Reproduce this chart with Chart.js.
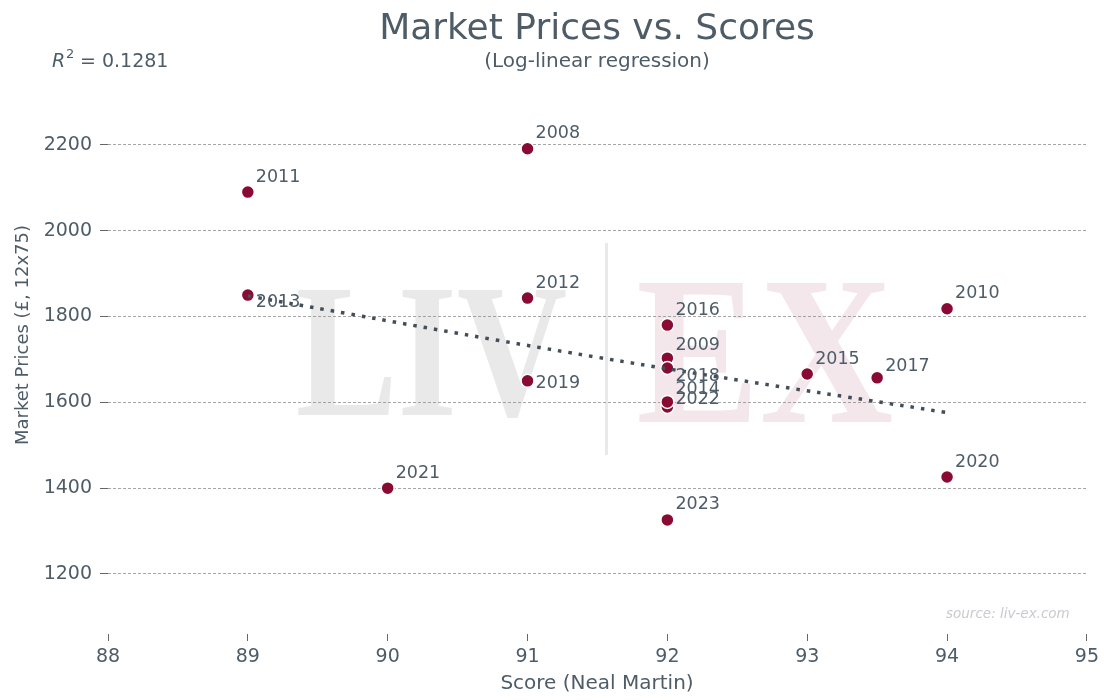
<!DOCTYPE html>
<html>
<head>
<meta charset="utf-8">
<script src="https://cdn.jsdelivr.net/npm/chart.js@4.4.1/dist/chart.umd.min.js"></script>
<style>
  html, body { margin: 0; padding: 0; background: #fff; }
  #wrap { width: 1104px; height: 700px; }
</style>
</head>
<body>
<div id="wrap"><canvas id="chart" width="1104" height="700"></canvas></div>
<script>
// vintages, Neal Martin scores, market prices (GBP, 12x75)
const years  = ['2008', '2009', '2010', '2011', '2012', '2013', '2014', '2015', '2016', '2017', '2018', '2019', '2020', '2021', '2022', '2023'];
const scores = [91, 92, 94, 89, 91, 89, 92, 93, 92, 93.5, 92, 91, 94, 90, 92, 92];
const prices = [2191, 1703, 1818, 2090, 1843, 1850, 1589, 1666, 1780, 1657, 1680, 1650, 1426, 1400, 1601, 1326];

// log-linear trend as drawn
const trendX = [89, 91.5, 94];
const trendY = [1848, 1705, 1576];

const xTicks = [88, 89, 90, 91, 92, 93, 94, 95];
const yTicks = [1200, 1400, 1600, 1800, 2000, 2200];

const TEXT = '#4e5c68';
const FONT = '"DejaVu Sans", sans-serif';

// where each year label sits relative to its point
const labelOffset = {
    '2013': 7, '2018': 8, '2019': 3, '2014': -18, '2022': -2, '2009': -13, '2017': -11
};

function fitText(ctx, text, font, color, x0, y0, x1, y1) {
    ctx.font = font;
    const m = ctx.measureText(text);
    const w = m.actualBoundingBoxRight + m.actualBoundingBoxLeft;
    const h = m.actualBoundingBoxAscent + m.actualBoundingBoxDescent;
    ctx.save();
    ctx.translate(x0, y0);
    ctx.scale((x1 - x0) / w, (y1 - y0) / h);
    ctx.fillStyle = color;
    ctx.textBaseline = 'alphabetic';
    ctx.fillText(text, m.actualBoundingBoxLeft, m.actualBoundingBoxAscent);
    ctx.restore();
}

const decor = {
    id: 'decor',
    beforeDraw(chart) {
        const ctx = chart.ctx;
        ctx.save();
        ctx.fillStyle = '#fff';
        ctx.fillRect(0, 0, chart.width, chart.height);
        // watermark
        fitText(ctx, 'LIV', 'bold 200px "Liberation Serif", serif', '#e9e9e9', 298, 290, 566, 418);
        fitText(ctx, 'EX', 'bold 200px "Liberation Serif", serif', '#f4e7eb', 639, 283, 892, 422);
        ctx.fillStyle = '#e9e9e9';
        ctx.fillRect(605, 243, 3, 212);
        ctx.restore();
    },
    afterDraw(chart) {
        const ctx = chart.ctx;
        const xs = chart.scales.x, ys = chart.scales.y;
        ctx.save();
        ctx.fillStyle = TEXT;
        ctx.textAlign = 'center';
        ctx.textBaseline = 'alphabetic';
        ctx.font = '36px ' + FONT;
        ctx.fillText('Market Prices vs. Scores', 597, 39);
        ctx.font = '20px ' + FONT;
        ctx.fillText('(Log-linear regression)', 597, 67);
        ctx.textBaseline = 'middle';
        ctx.fillText('Score (Neal Martin)', 597, 684);

        ctx.save();
        ctx.translate(23, 335);
        ctx.rotate(-Math.PI / 2);
        ctx.font = '18px ' + FONT;
        ctx.fillText('Market Prices (£, 12x75)', 0, 0);
        ctx.restore();

        // R squared
        ctx.textAlign = 'left';
        ctx.textBaseline = 'alphabetic';
        ctx.font = 'italic 19px ' + FONT;
        ctx.fillText('R', 52, 67);
        ctx.font = '13px ' + FONT;
        ctx.fillText('2', 66, 58);
        ctx.font = '19px ' + FONT;
        ctx.fillText('= 0.1281', 80, 67);

        // source note
        ctx.font = 'italic 13.5px ' + FONT;
        ctx.fillStyle = '#c9c9d2';
        ctx.textBaseline = 'middle';
        ctx.fillText('source: liv-ex.com', 946, 614);

        // year labels
        ctx.font = '17.5px ' + FONT;
        ctx.fillStyle = TEXT;
        years.forEach((yr, i) => {
            const px = xs.getPixelForValue(scores[i]);
            const py = ys.getPixelForValue(prices[i]);
            const dy = yr in labelOffset ? labelOffset[yr] : -15;
            ctx.fillText(yr, px + 8, py + dy);
        });
        ctx.restore();
    }
};

const ctx = document.getElementById('chart').getContext('2d');
new Chart(ctx, {
    type: 'scatter',
    data: {
        datasets: [{
            type: 'line',
            data: trendX.map((x, i) => ({ x: x, y: trendY[i] })),
            borderColor: '#434e59',
            borderWidth: 3.5,
            borderDash: [3.5, 7],
            pointRadius: 0,
            fill: false,
            tension: 0.4,
            order: 0
        }, {
            data: scores.map((s, i) => ({ x: s, y: prices[i] })),
            backgroundColor: '#890b34',
            borderColor: '#ffffff',
            borderWidth: 1.5,
            pointRadius: 6.5,
            pointHoverRadius: 6.5,
            order: 1
        }]
    },
    options: {
        responsive: false,
        animation: false,
        devicePixelRatio: 1,
        layout: { padding: { top: 96, right: 17, left: 0, bottom: 0 } },
        plugins: { legend: { display: false }, tooltip: { enabled: false } },
        scales: {
            x: {
                type: 'linear',
                min: 88, max: 95,
                afterBuildTicks: s => { s.ticks = xTicks.map(v => ({ value: v })); },
                afterFit: s => { s.height = 66; },
                grid: { drawOnChartArea: false, drawTicks: true, tickLength: 7, tickColor: '#666', tickWidth: 1 },
                border: { display: false },
                ticks: { color: TEXT, font: { family: FONT, size: 19 }, padding: 5, maxRotation: 0 }
            },
            y: {
                type: 'linear',
                min: 1060, max: 2314,
                afterBuildTicks: s => { s.ticks = yTicks.map(v => ({ value: v })); },
                afterFit: s => { s.width = 108; },
                grid: { color: '#8f8f8f', lineWidth: 0.8, tickLength: 8, tickColor: '#666', tickWidth: 1 },
                border: { display: false, dash: [3, 2] },
                ticks: { color: TEXT, font: { family: FONT, size: 19 }, padding: 8, callback: v => String(v) }
            }
        }
    },
    plugins: [decor]
});
</script>
</body>
</html>
